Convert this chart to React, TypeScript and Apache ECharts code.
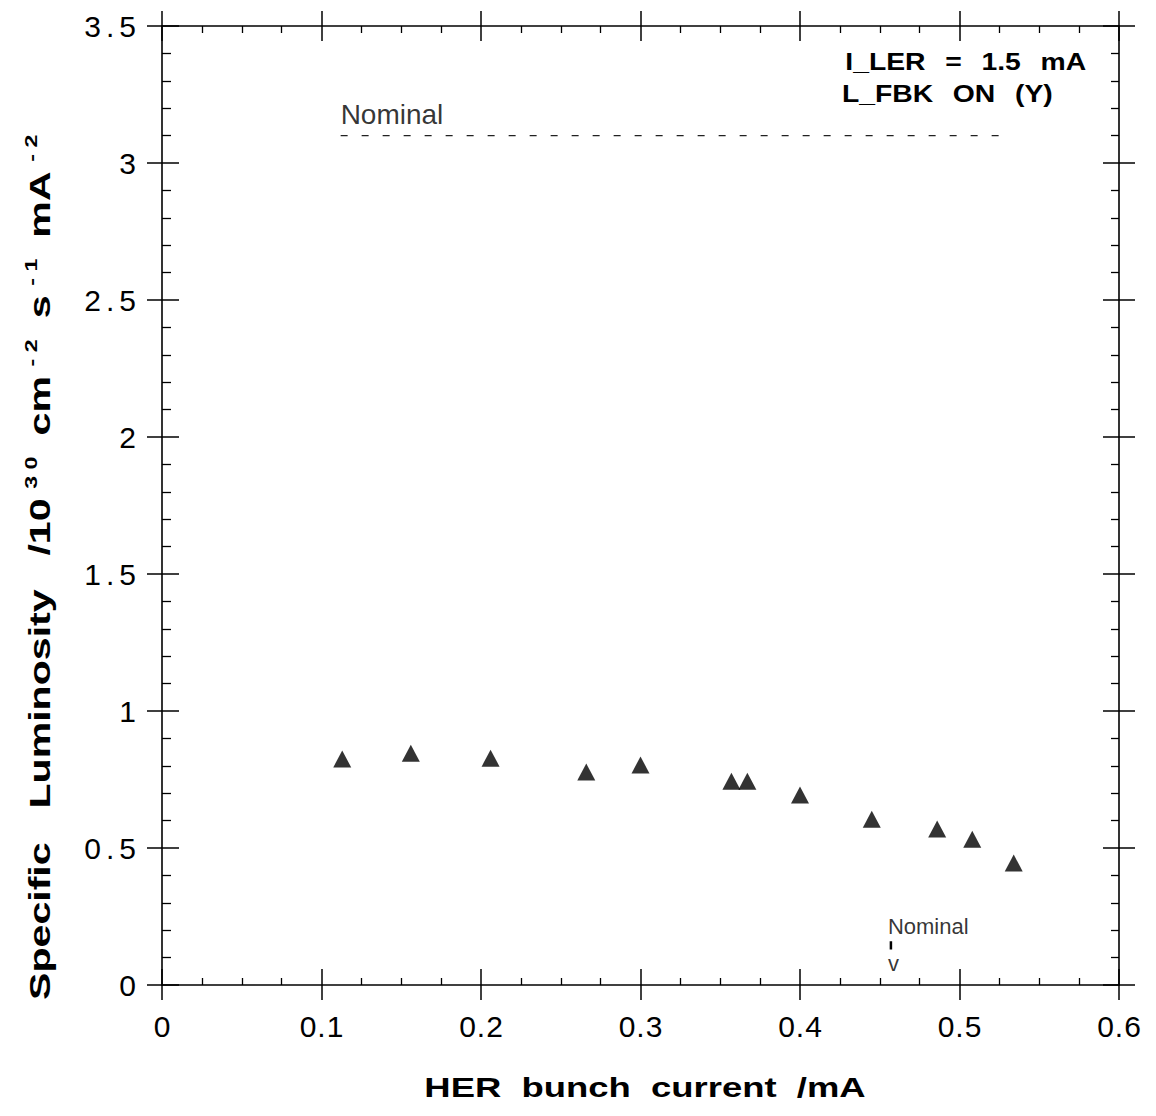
import React, { useEffect, useRef } from "react";
import * as echarts from "echarts";

const FONT = '"Liberation Sans", Arial, Helvetica, sans-serif';

// HER bunch current (mA)
const herCurrent = [0.113, 0.156, 0.206, 0.266, 0.3, 0.357, 0.367, 0.4, 0.445, 0.486, 0.508, 0.534];
// Specific luminosity (10^30 cm^-2 s^-1 mA^-2)
const specLumi = [0.825, 0.846, 0.828, 0.777, 0.803, 0.744, 0.744, 0.693, 0.605, 0.569, 0.532, 0.445];

const xMin = 0, xMax = 0.6, xStep = 0.1;
const yMin = 0, yMax = 3.5, yStep = 0.5;

// nominal specific luminosity line
const nominalLineX = [0.112, 0.532];
const nominalLumi = 3.1;
// nominal HER bunch current marker
const nominalCurrent = 0.457;
const nominalMarkY = [0.16, 0.13];
const nominalLabelY = 0.215;
const nominalArrowY = 0.077;

function fmtLabel(v: number) {
  const s = String(Math.round(v * 10) / 10);
  const parts = s.split(".");
  if (parts.length === 1) return "{n|" + s + "}";
  return "{n|" + parts[0] + "}{d|.}{n|" + parts[1] + "}";
}

export default function App() {
  const ref = useRef<HTMLDivElement>(null);
  useEffect(() => {
    if (!ref.current) return;
    const chart = echarts.init(ref.current, undefined, { renderer: "svg" });
    const black = "#000";
    const xBase = { type: "value", min: xMin, max: xMax, interval: xStep, splitLine: { show: false } };
    const yBase = { type: "value", min: yMin, max: yMax, interval: yStep, splitLine: { show: false } };
    const line = (show: boolean) => ({ show, onZero: false, lineStyle: { color: black, width: 1.6 } });
    const tick = (inside: boolean, length: number) => ({ show: true, inside, length, lineStyle: { color: black, width: 1.5 } });
    const noLabel = { show: false };

    const xLabel = {
      show: true,
      margin: 26,
      formatter: (v: number) => fmtLabel(v),
      rich: {
        n: { fontSize: 30, fontFamily: FONT, color: "#000" },
        d: { fontSize: 30, fontFamily: FONT, color: "#000", padding: [0, 1, 0, 1] },
      },
    };
    const yLabel = {
      show: true,
      margin: 26,
      formatter: (v: number) => fmtLabel(v),
      rich: {
        n: { fontSize: 30, fontFamily: FONT, color: "#000" },
        d: { fontSize: 30, fontFamily: FONT, color: "#000", padding: [0, 5, 0, 5] },
      },
    };

    const titleStyle = (text: string, rich: any, font: string, align: string) => ({
      text,
      rich,
      font,
      fill: "#000",
      align,
      textAlign: align,
      verticalAlign: "middle",
      textVerticalAlign: "middle",
    });
    const richW = (size: number, pad: number[]) => ({
      fontSize: size, fontWeight: "bold", fontFamily: FONT, color: "#000", fill: "#000", padding: pad,
    });

    const option: any = {
      animation: false,
      backgroundColor: "#fff",
      grid: { left: 162, right: 37, top: 26, bottom: 131, containLabel: false },
      xAxis: [
        { ...xBase, position: "bottom", axisLine: line(true), axisTick: tick(false, 15), minorTick: { show: false }, axisLabel: xLabel },
        { ...xBase, position: "bottom", axisLine: line(false), axisTick: tick(true, 16), minorTick: { show: true, splitNumber: 4, length: 7, lineStyle: { color: black, width: 1.3 } }, axisLabel: noLabel },
        { ...xBase, position: "top", axisLine: line(true), axisTick: tick(true, 15), minorTick: { show: true, splitNumber: 4, length: 7, lineStyle: { color: black, width: 1.3 } }, axisLabel: noLabel },
        { ...xBase, position: "top", axisLine: line(false), axisTick: tick(false, 15), minorTick: { show: false }, axisLabel: noLabel },
      ],
      yAxis: [
        { ...yBase, position: "left", axisLine: line(true), axisTick: tick(false, 15), minorTick: { show: false }, axisLabel: yLabel },
        { ...yBase, position: "left", axisLine: line(false), axisTick: tick(true, 17), minorTick: { show: true, splitNumber: 5, length: 9, lineStyle: { color: black, width: 1.3 } }, axisLabel: noLabel },
        { ...yBase, position: "right", axisLine: line(true), axisTick: tick(true, 16), minorTick: { show: true, splitNumber: 5, length: 8, lineStyle: { color: black, width: 1.3 } }, axisLabel: noLabel },
        { ...yBase, position: "right", axisLine: line(false), axisTick: tick(false, 16), minorTick: { show: false }, axisLabel: noLabel },
      ],
      series: [
        {
          type: "scatter",
          name: "Specific luminosity",
          data: herCurrent.map((x, i) => [x, specLumi[i]]),
          symbol: "triangle",
          symbolSize: [18, 17],
          itemStyle: { color: black },
        },
        {
          type: "line",
          name: "Nominal luminosity",
          data: nominalLineX.map((x) => [x, nominalLumi]),
          symbol: "none",
          lineStyle: { color: "#222", width: 1.3, type: [7, 14] },
        },
        {
          type: "scatter",
          name: "Nominal label",
          data: [[nominalLineX[0], nominalLumi]],
          symbolSize: 1,
          itemStyle: { color: "transparent" },
          label: {
            show: true,
            formatter: "Nominal",
            position: "top",
            align: "left",
            distance: 7,
            fontSize: 28,
            fontFamily: FONT,
            color: "#000",
          },
        },
        {
          type: "line",
          name: "Nominal current mark",
          data: nominalMarkY.map((y) => [nominalCurrent, y]),
          symbol: "none",
          lineStyle: { color: black, width: 2.5 },
        },
        {
          type: "scatter",
          name: "Nominal current label",
          data: [[nominalCurrent, nominalLabelY], [nominalCurrent, nominalArrowY]],
          symbolSize: 1,
          itemStyle: { color: "transparent" },
          label: {
            show: true,
            formatter: (p: any) => (p.dataIndex === 0 ? "Nominal" : "v"),
            position: "inside",
            align: "left",
            verticalAlign: "middle",
            offset: [-3, 0],
            fontSize: 22,
            fontFamily: FONT,
            color: "#000",
          },
        },
      ],
      graphic: [
        {
          type: "text",
          x: 1092,
          y: 62,
          scaleX: 1.18,
          style: titleStyle(
            "{a|I_LER} {a|=} {a|1.5} {a|mA}",
            { a: richW(24, [0, 5, 0, 5]) },
            "bold 24px " + FONT,
            "right"
          ),
        },
        {
          type: "text",
          x: 836,
          y: 94,
          scaleX: 1.18,
          style: titleStyle(
            "{a|L_FBK} {a|ON} {a|(Y)}",
            { a: richW(24, [0, 5, 0, 5]) },
            "bold 24px " + FONT,
            "left"
          ),
        },
        {
          type: "text",
          x: 645,
          y: 1088,
          scaleX: 1.35,
          style: titleStyle("HER  bunch  current  /mA", undefined, "bold 27px " + FONT, "center"),
        },
        {
          type: "text",
          x: 40,
          y: 568,
          rotation: Math.PI / 2,
          scaleX: 1.37,
          style: titleStyle(
            "{w|Specific}  {w|Luminosity}  {w|/10}{s|3 0}{w| cm}{s|- 2}{w| s}{s|- 1}{w| mA}{s|- 2}",
            {
              w: richW(30, [0, 4, 0, 4]),
              s: richW(17, [0, 3, 18, 3]),
            },
            "bold 30px " + FONT,
            "center"
          ),
        },
      ],
    };
    chart.setOption(option);
    return () => chart.dispose();
  }, []);
  return (
    <div
      ref={ref}
      style={{ position: "absolute", left: 0, top: 0, width: 1156, height: 1116, background: "#fff" }}
    />
  );
}
